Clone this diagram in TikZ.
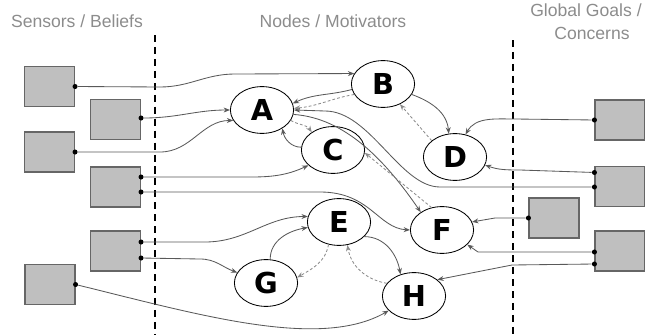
\documentclass[tikz,border=0pt]{standalone}
\usepackage{fontspec}
\setmainfont{Liberation Sans}
\newfontfamily\letterfont{DejaVu Sans}
\usetikzlibrary{shapes,arrows.meta,positioning,calc}

\tikzset{
  >={Stealth[length=4.5pt,width=3.5pt]},
  title/.style={text=black!45,font=\fontsize{12.5}{15.5}\selectfont,inner sep=0pt},
  sensor/.style={draw=black!60,fill=black!25,line width=0.8pt,minimum width=1.25cm,minimum height=1cm,inner sep=0pt},
  motiv/.style={draw,ellipse,fill=white,line width=0.6pt,minimum width=1.58cm,minimum height=1.17cm,inner sep=0pt,font=\letterfont\bfseries\fontsize{20.5}{24}\selectfont},
  dot/.style={circle,fill=black,inner sep=0pt,minimum size=3.6pt},
  link/.style={->,draw=black!65,line width=0.6pt},
  back/.style={->,draw=black!45,line width=0.6pt,dash pattern=on 2pt off 1.5pt},
  sep/.style={draw=black,line width=1.1pt,dash pattern=on 5pt off 3.5pt}
}

\begin{document}
\begin{tikzpicture}[x=0.025cm,y=0.025cm]
  \useasboundingbox (0,0) rectangle (645,-335);

  % column titles
  \node[title] (tsens) at (77,-21) {Sensors / Beliefs};
  \node[title] (tnode) at (333,-21) {Nodes / Motivators};
  \node[title] (tgoal) at (586,-10) {Global Goals /};
  \node[title] (tconc) at (592,-33) {Concerns};

  % separators
  \draw[sep] (155,-35) -- (155,-335);
  \draw[sep] (513,-40) -- (513,-335);

  % sensors / beliefs
  \node[sensor] (s1) at (49.5,-86.5) {};
  \node[sensor] (s2) at (115.5,-119.5) {};
  \node[sensor] (s3) at (49.5,-152) {};
  \node[sensor] (s4) at (115.5,-187) {};
  \node[sensor] (s5) at (115.5,-251) {};
  \node[sensor] (s6) at (50,-284.5) {};
  \node[dot] (s1o) at (s1.east) {};
  \node[dot] (s2o) at ($(s2.east)+(0,1.5)$) {};
  \node[dot] (s3o) at (s3.east) {};
  \node[dot] (s4a) at ($(s4.east)+(0,10)$) {};
  \node[dot] (s4b) at ($(s4.east)+(0,-5)$) {};
  \node[dot] (s5a) at ($(s5.east)+(0,9)$) {};
  \node[dot] (s5b) at ($(s5.east)+(0,-7)$) {};
  \node[dot] (s6o) at (s6.east) {};

  % global goals / concerns
  \node[sensor] (r1) at (620,-120) {};
  \node[sensor] (r2) at (620,-186.5) {};
  \node[sensor] (r3) at (554,-218) {};
  \node[sensor] (r4) at (620,-251) {};
  \node[dot] (r1o) at (r1.west) {};
  \node[dot] (r2a) at ($(r2.west)+(0,14)$) {};
  \node[dot] (r2b) at ($(r2.west)+(0,-0.5)$) {};
  \node[dot] (r3o) at (r3.west) {};
  \node[dot] (r4a) at ($(r4.west)+(0,-1)$) {};
  \node[dot] (r4b) at ($(r4.west)+(0,-13)$) {};

  % motivators
  \node[motiv] (A) at (262,-110) {A};
  \node[motiv] (B) at (383,-84) {B};
  \node[motiv] (C) at (333,-150) {C};
  \node[motiv] (D) at (455,-157) {D};
  \node[motiv] (E) at (339,-222) {E};
  \node[motiv] (F) at (442,-230) {F};
  \node[motiv] (G) at (266,-283) {G};
  \node[motiv] (H) at (414,-296) {H};

  % sensors to motivators
  \draw[link] (s1o) -- (160,-87) to[out=0,in=180] (235,-74) -- (B.160);
  \draw[link] (s2o) to[out=0,in=180] (A.west);
  \draw[link] (s3o) -- (160,-152) to[out=0,in=180] (A.200);
  \draw[link] (s4a) -- (230,-177) to[out=0,in=205] (C.212);
  \draw[link] (s4b) -- (320,-192) .. controls (370,-192) and (378,-228) .. (F.west);
  \draw[link] (s5a) -- (205,-242) to[out=0,in=180] (E.170);
  \draw[link] (s5b) -- (200,-259) to[out=0,in=160] (G.160);
  \draw[link] (s6o) .. controls (200,-315) and (320,-350) .. (H.210);

  % goals to motivators
  \draw[link] (r1o) -- (515,-119) to[out=180,in=60] (D.65);
  \draw[link] (r2a) -- (520,-170) to[out=180,in=-20] (D.-15);
  \draw[link] (r2b) -- (440,-187) .. controls (400,-187) and (370,-111) .. (325,-111) -- (A.east);
  \draw[link] (r3o) -- (495,-218) -- (F.15);
  \draw[link] (r4a) -- (478,-252) -- (F.-30);
  \draw[link] (r4b) -- (512,-265) -- (H.35);

  % between motivators
  \draw[link] (A.-8) .. controls (345,-118) and (385,-160) .. (F.140);
  \draw[link] (B.190) to[out=195,in=25] (A.12);
  \draw[back] (B.200) to[out=190,in=5] (A.3);
  \draw[link] (C.175) to[out=180,in=-80] (A.-42);
  \draw[back] (A.-20) to[out=-30,in=125] (C.140);
  \draw[link] (B.-20) to[out=-20,in=95] (D.105);
  \draw[back] (D.145) -- (B.-50);
  \draw[back] (F.115) -- (C.-5);
  \draw[link] (G.80) to[out=90,in=190] (E.190);
  \draw[back] (E.-115) to[out=-100,in=30] (G.10);
  \draw[link] (E.-30) to[out=0,in=100] (H.122);
  \draw[back] (H.155) to[out=170,in=-80] (E.-70);
\end{tikzpicture}
\end{document}
